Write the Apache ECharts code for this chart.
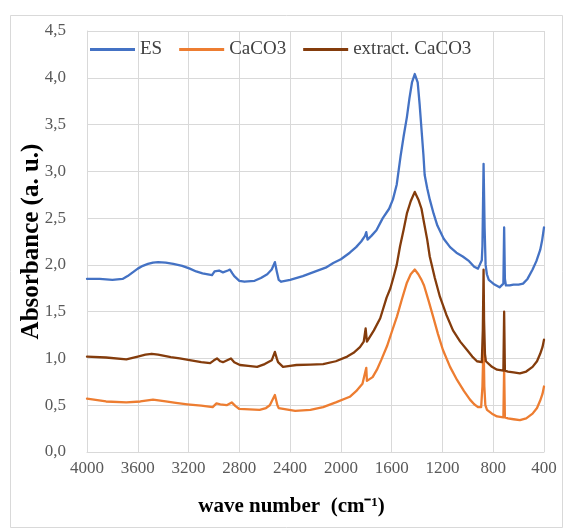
<!DOCTYPE html>
<html lang="en">
  <head>
    <meta charset="UTF-8" />
    <title>FTIR spectra</title>
    <script src="https://cdn.jsdelivr.net/npm/echarts@6.0.0/dist/echarts.min.js"></script>
    <style>
      html, body { margin: 0; padding: 0; background: #fff; }
    </style>
  </head>
  <body>
    <div id="main" style="width: 571px; height: 529px"></div>
    <script type="text/javascript">
      // spectra: [wave number, absorbance]
      let esData = [
        [4000, 1.85], [3900, 1.85], [3800, 1.84], [3720, 1.85], [3680, 1.88],
        [3640, 1.92], [3600, 1.96], [3560, 1.99], [3520, 2.01], [3480, 2.025],
        [3440, 2.03], [3380, 2.025], [3320, 2.01], [3250, 1.99], [3190, 1.96],
        [3140, 1.93], [3090, 1.91], [3015, 1.89], [2995, 1.93], [2985, 1.95],
        [2960, 1.94], [2929, 1.92], [2890, 1.94], [2874, 1.95], [2855, 1.91],
        [2840, 1.88], [2800, 1.83], [2760, 1.82], [2680, 1.83], [2630, 1.86],
        [2580, 1.9], [2545, 1.95], [2520, 2.03], [2505, 1.93], [2490, 1.84],
        [2470, 1.82], [2400, 1.84], [2300, 1.88], [2200, 1.93], [2120, 1.97],
        [2060, 2.02], [2000, 2.06], [1930, 2.13], [1880, 2.19], [1840, 2.25],
        [1810, 2.31], [1800, 2.35], [1790, 2.27], [1760, 2.31], [1720, 2.37],
        [1670, 2.5], [1640, 2.56], [1620, 2.6], [1590, 2.7], [1560, 2.86],
        [1530, 3.16], [1505, 3.38], [1480, 3.58], [1460, 3.78], [1440, 3.95],
        [1418, 4.04], [1395, 3.95], [1380, 3.72], [1365, 3.45], [1350, 3.18],
        [1340, 2.96], [1320, 2.82], [1300, 2.7], [1270, 2.55], [1240, 2.42],
        [1190, 2.28], [1140, 2.19], [1090, 2.13], [1040, 2.09], [990, 2.04],
        [950, 1.98], [920, 1.96], [905, 1.96], [890, 2.05], [885, 2.2],
        [876, 3.08], [868, 2.4], [860, 2.0], [850, 1.9], [835, 1.84],
        [790, 1.79], [750, 1.76], [735, 1.75], [720, 1.8], [714, 2.4],
        [708, 1.85], [700, 1.78], [670, 1.78], [640, 1.79], [600, 1.79],
        [565, 1.8], [530, 1.85], [490, 1.95], [460, 2.04], [430, 2.16],
        [415, 2.26], [400, 2.4]
      ];
      let caco3Data = [
        [4000, 0.57], [3850, 0.54], [3690, 0.53], [3580, 0.54], [3480, 0.56],
        [3380, 0.54], [3300, 0.525], [3210, 0.51], [3100, 0.495], [3010, 0.48],
        [2980, 0.52], [2950, 0.51], [2900, 0.5], [2860, 0.53], [2830, 0.49],
        [2800, 0.46], [2720, 0.455], [2640, 0.45], [2590, 0.47], [2560, 0.5],
        [2520, 0.61], [2500, 0.5], [2490, 0.47], [2480, 0.45], [2360, 0.44],
        [2240, 0.45], [2140, 0.48], [2040, 0.53], [1930, 0.59], [1880, 0.65],
        [1830, 0.73], [1800, 0.9], [1795, 0.76], [1785, 0.75], [1750, 0.8],
        [1716, 0.88], [1680, 0.99], [1637, 1.13], [1600, 1.28], [1558, 1.45],
        [1520, 1.63], [1480, 1.81], [1450, 1.9], [1418, 1.95], [1390, 1.9],
        [1365, 1.84], [1345, 1.78], [1310, 1.62], [1274, 1.45], [1235, 1.26],
        [1196, 1.09], [1140, 0.91], [1085, 0.77], [1030, 0.65], [983, 0.56],
        [950, 0.51], [920, 0.48], [895, 0.48], [885, 0.7], [876, 1.2],
        [870, 0.7], [862, 0.5], [849, 0.45], [810, 0.41], [770, 0.38],
        [720, 0.37], [714, 0.9], [708, 0.37], [684, 0.36], [640, 0.35],
        [590, 0.34], [540, 0.36], [490, 0.41], [455, 0.47], [430, 0.55],
        [412, 0.62], [400, 0.7]
      ];
      let extractData = [
        [4000, 1.02], [3850, 1.01], [3690, 0.99], [3600, 1.02], [3540, 1.04],
        [3490, 1.05], [3440, 1.04], [3400, 1.03], [3340, 1.015], [3270, 1.0],
        [3180, 0.98], [3100, 0.96], [3030, 0.95], [3000, 0.98], [2976, 1.0],
        [2950, 0.97], [2929, 0.96], [2866, 1.0], [2840, 0.96], [2795, 0.93],
        [2730, 0.92], [2660, 0.91], [2600, 0.94], [2545, 0.98], [2520, 1.07],
        [2505, 1.0], [2495, 0.96], [2456, 0.91], [2400, 0.92], [2350, 0.93],
        [2240, 0.935], [2140, 0.94], [2040, 0.97], [1950, 1.02], [1900, 1.06],
        [1850, 1.12], [1820, 1.18], [1805, 1.32], [1795, 1.18], [1785, 1.2],
        [1740, 1.3], [1690, 1.43], [1640, 1.65], [1610, 1.75], [1585, 1.87],
        [1560, 2.0], [1534, 2.2], [1505, 2.38], [1480, 2.55], [1450, 2.68],
        [1418, 2.78], [1390, 2.7], [1365, 2.6], [1345, 2.45], [1320, 2.27],
        [1300, 2.09], [1260, 1.86], [1220, 1.66], [1170, 1.47], [1117, 1.3],
        [1060, 1.18], [1006, 1.09], [965, 1.02], [928, 0.97], [890, 0.96],
        [882, 1.3], [876, 1.95], [872, 1.4], [865, 1.05], [858, 0.97],
        [850, 0.95], [810, 0.91], [770, 0.88], [720, 0.87], [714, 1.5],
        [708, 0.87], [684, 0.86], [640, 0.85], [590, 0.84], [540, 0.86],
        [490, 0.91], [455, 0.97], [430, 1.05], [412, 1.12], [400, 1.2]
      ];
      let seriesNames = ["ES", "CaCO3", "extract. CaCO3"];
      let seriesColors = ["#4472c4", "#ed7d31", "#843c0c"];

      let serif = "'Liberation Serif', 'Times New Roman', serif";
      let gridColor = "#d9d9d9";

      function makeLine(i, data) {
        return {
          name: seriesNames[i],
          type: "line",
          data: data,
          showSymbol: false,
          animation: false,
          lineStyle: { color: seriesColors[i], width: 2.3, join: "round", cap: "round" },
          itemStyle: { color: seriesColors[i] },
        };
      }

      let options = {
        backgroundColor: "#fff",
        graphic: [
          {
            type: "rect",
            shape: { x: 10.5, y: 15.5, width: 552, height: 512 },
            style: { fill: "none", stroke: gridColor, lineWidth: 1 },
            silent: true,
          },
        ],
        grid: { left: 87, right: 27, top: 31, bottom: 77 },
        legend: {
          left: 85,
          top: 35,
          itemWidth: 45,
          itemHeight: 3,
          itemGap: 17,
          icon: "rect",
          textStyle: { fontFamily: serif, fontSize: 19, color: "#404040" },
          data: seriesNames,
        },
        xAxis: {
          type: "value",
          inverse: true,
          min: 400,
          max: 4000,
          interval: 400,
          name: "wave number  (cm\u207b\u00b9)",
          nameLocation: "middle",
          nameGap: 44,
          nameTextStyle: {
            fontFamily: serif,
            fontSize: 21,
            fontWeight: "bold",
            color: "#000",
            padding: [0, 48, 0, 0],
          },
          axisLine: { lineStyle: { color: gridColor } },
          axisTick: { show: false },
          axisLabel: {
            fontFamily: serif,
            fontSize: 17,
            color: "#595959",
            margin: 8,
            formatter: (v) => String(v),
          },
          splitLine: { show: true, lineStyle: { color: gridColor, width: 1 } },
        },
        yAxis: {
          type: "value",
          min: 0,
          max: 4.5,
          interval: 0.5,
          name: "Absorbance (a. u.)",
          nameLocation: "middle",
          nameGap: 43,
          nameMoveOverlap: false,
          nameTextStyle: { fontFamily: serif, fontSize: 25, fontWeight: "bold", color: "#000" },
          axisLine: { show: true, lineStyle: { color: gridColor } },
          axisTick: { show: false },
          axisLabel: {
            fontFamily: serif,
            fontSize: 17,
            color: "#595959",
            margin: 21,
            formatter: (v) => v.toFixed(1).replace(".", ","),
          },
          splitLine: { show: true, lineStyle: { color: gridColor, width: 1 } },
        },
        series: [makeLine(0, esData), makeLine(1, caco3Data), makeLine(2, extractData)],
      };

      let myChart = echarts.init(document.getElementById("main"));
      myChart.setOption(options);
    </script>
  </body>
</html>
